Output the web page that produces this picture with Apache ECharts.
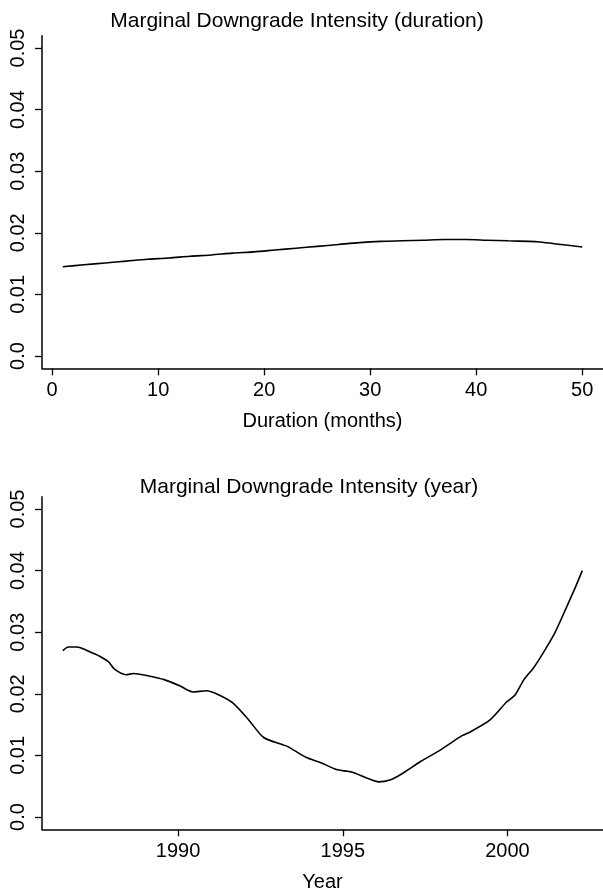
<!DOCTYPE html>
<html>
<head>
<meta charset="utf-8">
<script src="https://cdn.jsdelivr.net/npm/echarts@6/dist/echarts.min.js"></script>
<style>
  html, body { margin: 0; padding: 0; background: #ffffff; }
  #chart { width: 603px; height: 895px; }
</style>
</head>
<body>
<div id="chart"></div>
<script>
// ---- data ----
const titleTop = 'Marginal Downgrade Intensity (duration)';
const titleBottom = 'Marginal Downgrade Intensity (year)';
const xNameTop = 'Duration (months)';
const xNameBottom = 'Year';

const durationMonths = [1, 3, 5, 7, 9, 11, 13, 15, 17, 19, 21, 23, 25, 27, 29, 31, 33, 35, 37, 39, 41, 43, 45, 46, 48, 50];
const durationIntensity = [0.0145, 0.0148, 0.0151, 0.0154, 0.0157, 0.0159, 0.0162, 0.0164, 0.0167, 0.0169, 0.0172, 0.0175, 0.0178, 0.0181, 0.0184, 0.0186, 0.0187, 0.0188, 0.0189, 0.0189, 0.0188, 0.0187, 0.0186, 0.0185, 0.0181, 0.0177];

const years = [1986.50, 1986.67, 1986.91, 1987.08, 1987.37, 1987.62, 1987.89, 1988.07, 1988.42, 1988.65, 1989.11, 1989.58, 1990.05, 1990.45, 1990.86, 1991.21, 1991.67, 1992.14, 1992.60, 1993.30, 1993.88, 1994.34, 1994.81, 1995.27, 1995.74, 1996.09, 1996.43, 1996.76, 1997.36, 1997.97, 1998.62, 1998.87, 1999.48, 1999.98, 2000.23, 2000.50, 2000.79, 2001.08, 2001.43, 2001.78, 2002.07, 2002.27];
const yearIntensity = [0.0270, 0.0276, 0.0276, 0.0274, 0.0267, 0.0261, 0.0252, 0.0240, 0.0231, 0.0233, 0.0229, 0.0223, 0.0213, 0.0203, 0.0205, 0.0199, 0.0185, 0.0158, 0.0129, 0.0115, 0.0097, 0.0088, 0.0077, 0.0073, 0.0063, 0.0057, 0.0060, 0.0069, 0.0090, 0.0109, 0.0132, 0.0138, 0.0158, 0.0187, 0.0198, 0.0223, 0.0242, 0.0266, 0.0298, 0.0339, 0.0374, 0.0400];

const yTickValues = [0, 0.01, 0.02, 0.03, 0.04, 0.05];
const yTickLabels = ['0.0', '0.01', '0.02', '0.03', '0.04', '0.05'];
const xTickTop = [0, 10, 20, 30, 40, 50];
const xTickBottom = [1990, 1995, 2000];

// ---- chart ----
const FONT = 'Liberation Sans, Arial, Helvetica, sans-serif';
const chart = echarts.init(document.getElementById('chart'), null, { renderer: 'canvas' });

function yAxisDef(gridIndex) {
  return {
    type: 'value', gridIndex: gridIndex, min: -0.002, max: 0.052,
    axisLine: { show: true, onZero: false, lineStyle: { color: '#000', width: 1.5 } },
    axisTick: { show: true, length: 7, customValues: yTickValues, lineStyle: { color: '#000', width: 1.3 } },
    axisLabel: {
      show: true, customValues: yTickValues, rotate: 90, margin: 14,
      color: '#000', fontSize: 20, fontFamily: FONT,
      formatter: function (v) {
        const i = yTickValues.findIndex(t => Math.abs(t - v) < 1e-9);
        return i >= 0 ? yTickLabels[i] : '';
      }
    },
    splitLine: { show: false }
  };
}

function xAxisDef(gridIndex, min, max, ticks, name) {
  return {
    type: 'value', gridIndex: gridIndex, min: min, max: max,
    name: name, nameLocation: 'middle', nameGap: 43,
    nameTextStyle: { color: '#000', fontSize: 20, fontFamily: FONT },
    axisLine: { show: true, onZero: false, lineStyle: { color: '#000', width: 1.5 } },
    axisTick: { show: true, length: 7, customValues: ticks, lineStyle: { color: '#000', width: 1.3 } },
    axisLabel: { show: true, customValues: ticks, margin: 12, color: '#000', fontSize: 20, fontFamily: FONT,
      formatter: function (v) { return String(v); } },
    splitLine: { show: false }
  };
}

const option = {
  backgroundColor: '#ffffff',
  animation: false,
  title: [
    { text: titleTop, left: 292, top: 6, textAlign: 'center',
      textStyle: { color: '#000', fontSize: 21, fontWeight: 'normal', fontFamily: FONT } },
    { text: titleBottom, left: 304, top: 472, textAlign: 'center',
      textStyle: { color: '#000', fontSize: 21, fontWeight: 'normal', fontFamily: FONT } }
  ],
  grid: [
    { left: 42, right: -3.5, top: 35.7, height: 332.6, containLabel: false },
    { left: 42, right: -3.5, top: 496.7, height: 332.6, containLabel: false }
  ],
  xAxis: [
    xAxisDef(0, -0.96, 51.96, xTickTop, xNameTop),
    xAxisDef(1, 1985.87, 2002.9, xTickBottom, xNameBottom)
  ],
  yAxis: [yAxisDef(0), yAxisDef(1)],
  series: [
    { type: 'line', xAxisIndex: 0, yAxisIndex: 0, showSymbol: false, smooth: 0.3,
      lineStyle: { color: '#000', width: 1.6 },
      data: durationMonths.map((m, i) => [m, durationIntensity[i]]) },
    { type: 'line', xAxisIndex: 1, yAxisIndex: 1, showSymbol: false, smooth: 0.25,
      lineStyle: { color: '#000', width: 1.6 },
      data: years.map((y, i) => [y, yearIntensity[i]]) }
  ]
};
chart.setOption(option);
</script>
</body>
</html>
